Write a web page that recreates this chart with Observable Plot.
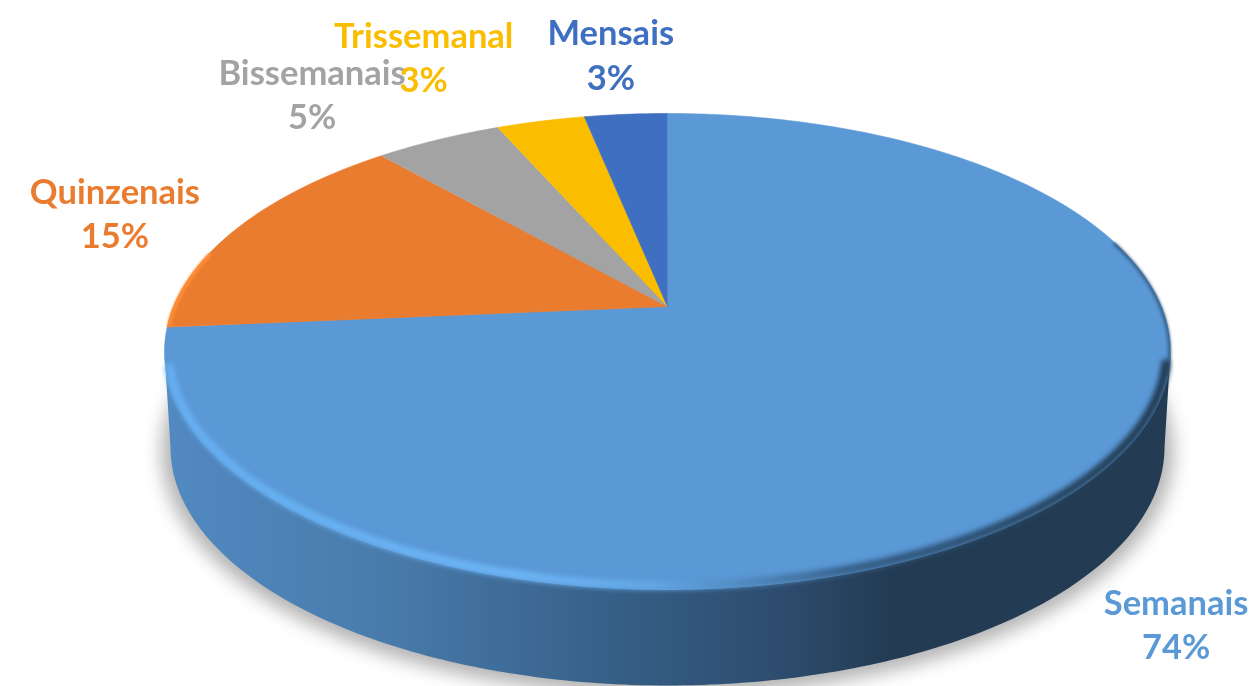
<!DOCTYPE html>
<html>
<head>
<meta charset="utf-8">
<script src="https://cdn.jsdelivr.net/npm/d3@7"></script>
<script src="https://cdn.jsdelivr.net/npm/@observablehq/plot@0.6"></script>
<style>html,body{margin:0;padding:0;background:#fff;overflow:hidden}svg{display:block}</style>
</head>
<body>
<div id="chart"></div>
<script>
// ---- data (share of each frequency, clockwise from 12 o'clock) ----
const categories = ["Semanais", "Quinzenais", "Bissemanais", "Trissemanal", "Mensais"];
const shares = [73.6, 14.9, 4.9, 3.4, 3.2];
const percentLabels = ["74%", "15%", "5%", "3%", "3%"];
const colors = ["#5a98d6", "#ea7c30", "#a3a3a3", "#fbbd00", "#3f6fc0"];
const labelOffsetX = [91, -124, -126, -117, -15];
const labelOffsetY = [139, -15, -46.5, -65.5, -61];

// ---- projection of the tilted disc ----
const W = 1253, H = 686;
const cx = 667, cy = 351, rx = 503, ry = 238, tilt = 0.189, depth = 96;
const TAU = 2 * Math.PI;
function disc(fraction) {            // perspective: the centre of the pie sits above the ellipse centre
  const a = fraction * TAU, u = Math.sin(a), v = Math.cos(a), d = 1 + tilt * v;
  return {x: cx + rx * u * Math.sqrt(1 - tilt * tilt) / d, y: cy - ry * (v + tilt) / d};
}
const ellipse = (deg, inset = 0, dy = 0, dr = 0) => ({
  x: cx + (rx - inset - dr) * Math.sin(deg * Math.PI / 180),
  y: cy + dy - (ry - inset) * Math.cos(deg * Math.PI / 180)
});
const apex = {x: cx, y: cy - ry * tilt};

// slices
const total = d3.sum(shares);
let running = 0;
const slicePoints = [], labelRows = [];
categories.forEach((category, i) => {
  const f0 = running / total, f1 = (running + shares[i]) / total;
  running += shares[i];
  slicePoints.push({category, ...apex});
  const steps = Math.max(8, Math.round((f1 - f0) * 360));
  d3.range(steps + 1).forEach(k => slicePoints.push({category, ...disc(f0 + (f1 - f0) * k / steps)}));
  const mid = disc((f0 + f1) / 2);
  labelRows.push({category, text: category + "\n" + percentLabels[i],
    x: mid.x + labelOffsetX[i], y: mid.y + labelOffsetY[i]});
});

// wall and shadow outlines
const wall = [
  ...d3.range(270, 89, -1).map(d => ellipse(d)),
  ...d3.range(90, 271, 1).map(d => ellipse(d, 0, depth, 6))
];
const shadow = d3.range(0, 360, 2).map(d => ellipse(d, -6, depth + 4, 3));
const bevel = d3.range(266, 92, -1).map(d => ellipse(d, 4));
const edgeShade = d3.range(96, 62, -1).map(d => ellipse(d, 1));
const orangeEdge = d3.range(0, 1.0001, 0.05)
  .map(t => disc((shares[0] + 0.2) / total + t * 0.05)).map(p => ({x: p.x + 1.5, y: p.y + 0.5}));

const plot = Plot.plot({
  width: W, height: H, margin: 0,
  style: {background: "#fff", overflow: "hidden"},
  x: {domain: [0, W], range: [0, W], axis: null},
  y: {domain: [0, H], range: [0, H], axis: null},
  color: {domain: categories, range: colors},
  marks: [
    Plot.line(shadow, {x: "x", y: "y", fill: "#8a8a8a", fillOpacity: 0.65, stroke: "none"}),
    Plot.line(wall, {x: "x", y: "y", fill: "url(#wallGradient)", stroke: "none"}),
    Plot.line(slicePoints, {x: "x", y: "y", z: "category", fill: "category", stroke: "category", strokeWidth: 0.6}),
    Plot.line(orangeEdge, {x: "x", y: "y", stroke: "#ff8b33", strokeWidth: 4}),
    Plot.line(edgeShade, {x: "x", y: "y", stroke: "#2a4a68", strokeWidth: 3, strokeOpacity: 0.75}),
    Plot.line(bevel, {x: "x", y: "y", stroke: "url(#rimGradient)", strokeWidth: 9}),
    Plot.text(labelRows, {x: "x", y: "y", text: "text", fill: "category", fontFamily: "Lato", fontWeight: 700,
      fontSize: 34.5, lineHeight: 1.28, textAnchor: "middle"})
  ]
});

// gradients and soft edges
const defs = d3.select(plot).append("defs");
function gradient(id, stops) {
  const g = defs.append("linearGradient").attr("id", id).attr("x1", 0).attr("x2", 1).attr("y1", 0).attr("y2", 0);
  stops.forEach(([o, c]) => g.append("stop").attr("offset", o).attr("stop-color", c));
}
gradient("wallGradient", [[0, "#5189c1"], [0.2, "#4a7dae"], [0.45, "#365f87"], [0.62, "#2d4b6c"], [0.72, "#233c54"], [1, "#233c54"]]);
gradient("rimGradient", [[0, "#66aef0"], [0.35, "#6cb4f5"], [0.48, "#64a7e6"], [0.58, "#4f88bd"], [0.68, "#37618a"], [0.85, "#2a4a68"], [1, "#233c54"]]);
const lineGroups = plot.querySelectorAll('g[aria-label="line"]');
lineGroups[0].style.filter = "blur(9px)";
lineGroups[3].style.filter = "blur(1.2px)";
lineGroups[4].style.filter = "blur(1.6px)";
lineGroups[5].style.filter = "blur(2.8px)";
plot.querySelector('g[aria-label="text"]').style.filter = "blur(0.5px)";
document.getElementById("chart").appendChild(plot);
</script>
</body>
</html>
